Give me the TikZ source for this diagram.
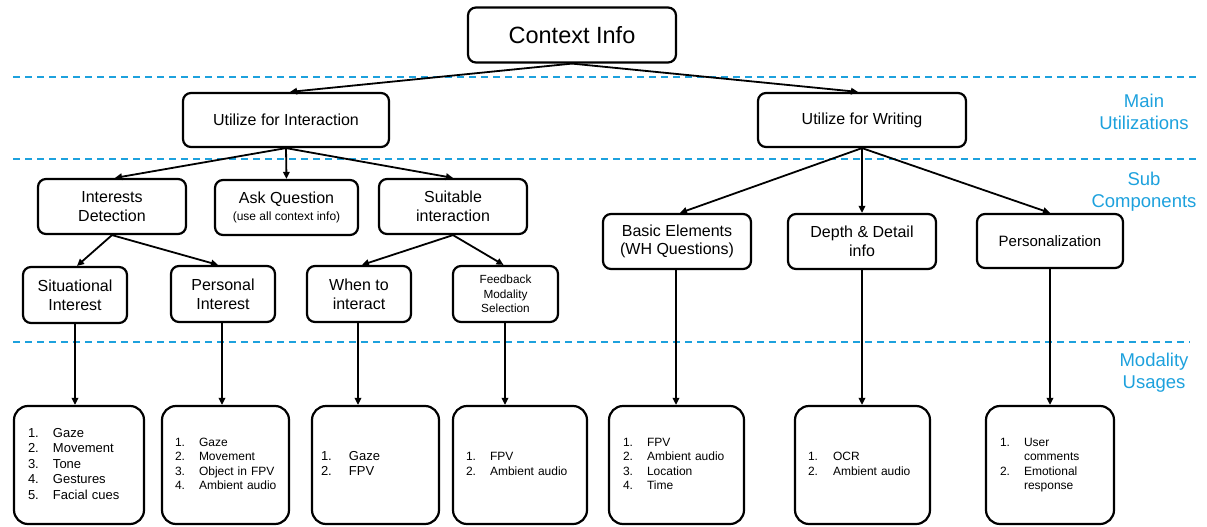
\documentclass[tikz,border=0pt]{standalone}
\usepackage{fontspec}
\setmainfont{Liberation Sans}
\usetikzlibrary{arrows.meta}
\definecolor{secblue}{RGB}{29,161,221}
\newcommand{\fs}[2]{\fontsize{#1}{#2}\selectfont}
\tikzset{
  box/.style={draw=black, line width=2.2pt, rounded corners=8pt, align=center, inner sep=0pt, font=\fs{16}{18.6}},
  listbox/.style={draw=black, line width=2.2pt, rounded corners=14pt, inner sep=0pt, anchor=center},
  arr/.style={line width=1.8pt, -{Triangle[length=7pt,width=6.5pt]}},
  sep/.style={draw=secblue, line width=2pt, dash pattern=on 7pt off 5pt},
  seclabel/.style={text=secblue, align=center, font=\fs{18.5}{22}},
}
\begin{document}
\begin{tikzpicture}[x=1pt,y=-1pt]
\useasboundingbox (0,0) rectangle (1207,527);
% separators
\draw[sep] (13,77) -- (1200,77);
\draw[sep] (13,159) -- (1198,159);
\draw[sep] (13,342) -- (1190,342);
% section labels
\node[seclabel] (lmain) at (1144,112) {Main\\Utilizations};
\node[seclabel] (lsub) at (1144,192) {Sub\\Components};
\node[seclabel] (lmod) at (1154,373) {Modality\\Usages};
% top
\node[box, minimum width=208pt, minimum height=55pt, font=\fs{23.5}{26}] (ctx) at (572,35) {Context Info};
\node[box, minimum width=206pt, minimum height=54pt] (ui) at (286,120) {Utilize for Interaction};
\node[box, minimum width=208pt, minimum height=54pt] (uw) at (862,120) {Utilize for Writing};
% second row
\node[box, minimum width=148pt, minimum height=55pt] (id) at (112,206.5) {Interests\\Detection};
\node[box, minimum width=143pt, minimum height=55pt] (aq) at (286.5,207.5) {Ask Question\\[-1pt]{\fs{12}{14}(use all context info)}};
\node[box, minimum width=148pt, minimum height=55pt] (si) at (453,206.5) {Suitable\\interaction};
\node[box, minimum width=148pt, minimum height=55pt] (be) at (677,241.5) {Basic Elements\\(WH Questions)};
\node[box, minimum width=148pt, minimum height=55pt] (dd) at (862,241.5) {Depth \& Detail\\info};
\node[box, minimum width=146pt, minimum height=54pt, font=\fs{15}{18}] (pz) at (1050,241) {Personalization};
% third row
\node[box, minimum width=104pt, minimum height=56pt] (sit) at (75,295) {Situational\\Interest};
\node[box, minimum width=104pt, minimum height=56pt] (per) at (223,294) {Personal\\Interest};
\node[box, minimum width=104pt, minimum height=56pt] (wti) at (359,294) {When to\\interact};
\node[box, minimum width=105pt, minimum height=56pt, font=\fs{11.8}{14.3}] (fms) at (505.5,294) {Feedback\\Modality\\Selection};
% list boxes
\node[listbox, minimum width=130pt, minimum height=118pt, text width=102pt, inner xsep=14pt, font=\fs{13}{15.5}] (l1) at (79,465)
  {\begin{tabular}{@{}p{25pt}@{}l@{}}1.&Gaze\\2.&Movement\\3.&Tone\\4.&Gestures\\5.&Facial cues\end{tabular}};
\node[listbox, minimum width=127pt, minimum height=118pt, text width=101pt, inner xsep=13pt, font=\fs{12}{14.3}] (l2) at (225.5,465)
  {\begin{tabular}{@{}p{24pt}@{}l@{}}1.&Gaze\\2.&Movement\\3.&Object in FPV\\4.&Ambient audio\end{tabular}};
\node[listbox, minimum width=127pt, minimum height=118pt, text width=109pt, inner xsep=9pt, font=\fs{13}{15.5}] (l3) at (375.5,465)
  {\begin{tabular}{@{}p{28pt}@{}l@{}}1.&Gaze\\2.&FPV\end{tabular}};
\node[listbox, minimum width=134pt, minimum height=118pt, text width=108pt, inner xsep=13pt, font=\fs{12}{14.5}] (l4) at (520,465)
  {\begin{tabular}{@{}p{24pt}@{}l@{}}1.&FPV\\2.&Ambient audio\end{tabular}};
\node[listbox, minimum width=135pt, minimum height=118pt, text width=107pt, inner xsep=14pt, font=\fs{12}{14.5}] (l5) at (676.5,465)
  {\begin{tabular}{@{}p{24pt}@{}l@{}}1.&FPV\\2.&Ambient audio\\3.&Location\\4.&Time\end{tabular}};
\node[listbox, minimum width=135pt, minimum height=118pt, text width=109pt, inner xsep=13pt, font=\fs{12}{14.5}] (l6) at (862.5,465)
  {\begin{tabular}{@{}p{25pt}@{}l@{}}1.&OCR\\2.&Ambient audio\end{tabular}};
\node[listbox, minimum width=128pt, minimum height=118pt, text width=100pt, inner xsep=14pt, font=\fs{12}{14.5}] (l7) at (1050,465)
  {\begin{tabular}{@{}p{24pt}@{}l@{}}1.&User\\&comments\\2.&Emotional\\&response\end{tabular}};
% arrows
\draw[arr] (ctx.south) -- ([xshift=4pt]ui.north);
\draw[arr] (ctx.south) -- ([xshift=-4pt]uw.north);
\draw[arr] (ui.south) -- ([xshift=3pt]id.north);
\draw[arr] (ui.south) -- (aq.north);
\draw[arr] (ui.south) -- (si.north);
\draw[arr] (uw.south) -- ([xshift=3pt]be.north);
\draw[arr] (uw.south) -- (dd.north);
\draw[arr] (uw.south) -- (pz.north);
\draw[arr] (id.south) -- ([xshift=2pt]sit.north);
\draw[arr] (id.south) -- ([xshift=-5pt]per.north);
\draw[arr] (si.south) -- ([xshift=3pt]wti.north);
\draw[arr] (si.south) -- ([xshift=-2pt]fms.north);
\draw[arr] (sit.south) -- (sit.south |- l1.north);
\draw[arr] ([xshift=-1pt]per.south) -- ([xshift=-1pt]per.south |- l2.north);
\draw[arr] ([xshift=-1pt]wti.south) -- ([xshift=-1pt]wti.south |- l3.north);
\draw[arr] ([xshift=-0.5pt]fms.south) -- ([xshift=-0.5pt]fms.south |- l4.north);
\draw[arr] ([xshift=-1pt]be.south) -- ([xshift=-1pt]be.south |- l5.north);
\draw[arr] (dd.south) -- (dd.south |- l6.north);
\draw[arr] (pz.south) -- (pz.south |- l7.north);
\end{tikzpicture}
\end{document}
